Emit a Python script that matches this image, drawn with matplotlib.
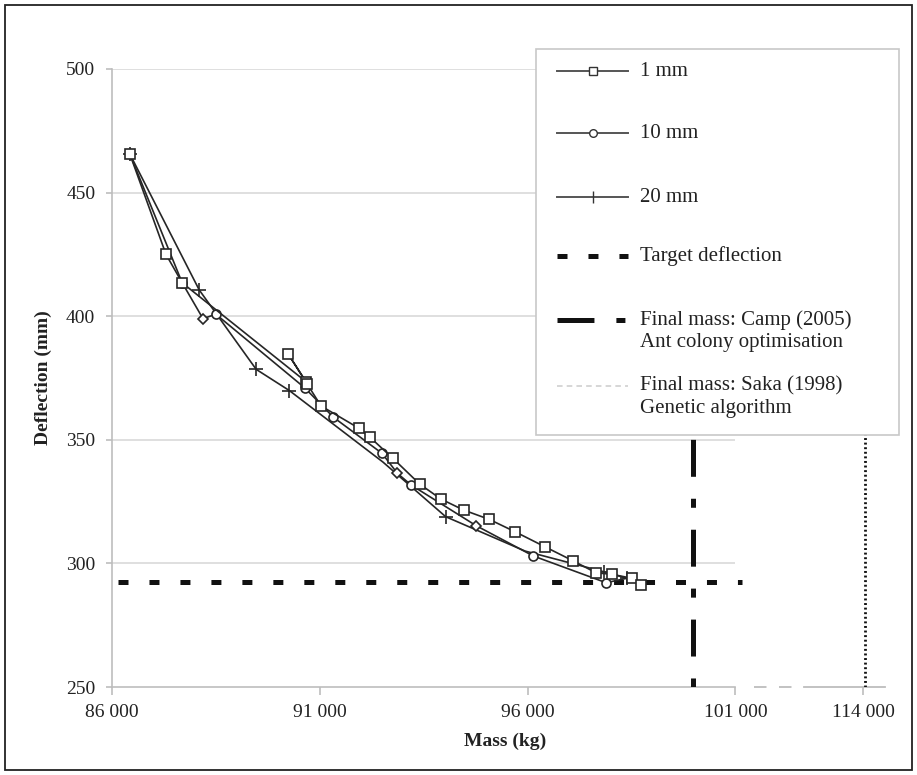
import numpy as np
import matplotlib
matplotlib.use("Agg")
from matplotlib import pyplot as plt
from matplotlib.lines import Line2D
from matplotlib.patches import Rectangle
from matplotlib.ticker import FuncFormatter

plt.rcParams['font.family'] = ['Liberation Serif', 'DejaVu Serif']
plt.rcParams['lines.scale_dashes'] = False

# Series (mass in kg, deflection in mm)
mm1_x = [86430, 87300, 87690, 90670, 90240, 90700, 91030, 91950, 92210, 92760,
         93410, 93920, 94460, 95080, 95700, 96410, 97100, 97650, 98030, 98510, 98730]
mm1_y = [465.6, 425.0, 413.5, 373.5, 384.7, 372.5, 363.7, 354.6, 351.0, 342.5,
         332.0, 326.0, 321.6, 317.8, 312.8, 306.8, 301.0, 296.2, 295.6, 294.0, 291.3]

mm10_x = [86430, 87690, 88190, 88500, 90640, 91330, 92500, 92870, 93200, 94760,
          96140, 97890, 98390]
mm10_y = [465.6, 413.5, 399.0, 400.8, 371.0, 359.1, 344.5, 336.4, 331.7, 315.3,
          303.0, 292.2, 294.0]
mm10_circles = [1, 3, 4, 5, 6, 8, 10, 11]
mm10_diamonds = [2, 7, 9]

mm20_x = [86430, 88100, 89470, 90270, 92520, 94030, 95940, 97840, 98390]
mm20_y = [465.6, 410.6, 378.5, 369.9, 341.0, 318.9, 305.0, 296.6, 294.0]
mm20_plus = [0, 1, 2, 3, 5, 7, 8]

target_deflection = 292.5
target_span = [86145, 101700]
camp_mass = 99990
saka_mass = 114200

x_ticks = [86000, 91000, 96000, 101000, 114000]
y_ticks = [250, 300, 350, 400, 450, 500]

labels = ['1 mm', '10 mm', '20 mm', 'Target deflection',
          'Final mass: Camp (2005)\nAnt colony optimisation',
          'Final mass: Saka (1998)\nGenetic algorithm']

# broken x axis: everything past 101 000 is squeezed
BREAK = 101000
SQUEEZE = 0.237


def fwd(x):
    x = np.asarray(x, dtype=float)
    return np.where(x <= BREAK, x, BREAK + (x - BREAK) * SQUEEZE)


def inv(u):
    u = np.asarray(u, dtype=float)
    return np.where(u <= BREAK, u, BREAK + (u - BREAK) / SQUEEZE)


W, H = 917, 775


def fx(p):
    return p / W


def fy(p):
    return 1 - p / H


line_c = '#262626'
axis_c = '#bdbdbd'
grid_c = '#d9d9d9'
text_c = '#222222'

fig = plt.figure(figsize=(9.17, 7.75), dpi=100)
ax = fig.add_axes([0.1221, 0.1135, 0.8517, 0.7975])
ax.set_xscale('function', functions=(fwd, inv))
ax.set_xlim(86000, 117000)
ax.set_ylim(250, 500)

for s in ['top', 'right']:
    ax.spines[s].set_visible(False)
ax.spines['left'].set_color(axis_c)
ax.spines['bottom'].set_color(axis_c)
ax.spines['bottom'].set_bounds(86000, 101000)
ax.spines['left'].set_linewidth(1.2)
ax.spines['bottom'].set_linewidth(1.2)

# continuation of the axis after the break
ax.plot([102900, 108000], [250, 250], color=axis_c, lw=1.3, dashes=(9, 9),
        clip_on=False, zorder=2)
ax.plot([108000, 116200], [250, 250], color=axis_c, lw=1.3, clip_on=False, zorder=2)

ax.hlines(y_ticks[1:], 86000, 101000, color=grid_c, lw=1.2, zorder=1)

ax.set_xticks(x_ticks)
ax.set_yticks(y_ticks)
ax.xaxis.set_major_formatter(FuncFormatter(lambda v, p: f'{v:,.0f}'.replace(',', ' ')))
ax.tick_params(axis='x', direction='out', length=6, width=1.2, color=axis_c,
               labelsize=14, pad=6, labelcolor=text_c)
ax.tick_params(axis='y', direction='out', length=4, width=1.2, color=axis_c,
               labelsize=14, pad=8, labelcolor=text_c)

ax.set_xlabel('Mass (kg)', fontsize=14, fontweight='bold', color=text_c)
ax.set_ylabel('Deflection (mm)', fontsize=14, fontweight='bold', color=text_c)
ax.xaxis.set_label_coords(0.503, -0.074)
ax.yaxis.set_label_coords(-0.077, 0.5)

# reference lines
target_style = dict(color='#111111', lw=3.6, dashes=(7.2, 15.1), dash_capstyle='butt')
camp_style = dict(color='#111111', lw=3.6, dashes=(6.5, 15.8, 26.6, 15.8),
                  dash_capstyle='butt')
ax.plot(target_span, [target_deflection, target_deflection], zorder=3, **target_style)
ax.plot([camp_mass, camp_mass], [250, 500], zorder=3, **camp_style)
ax.plot([saka_mass, saka_mass], [250, 500], color='#111111', lw=2.0,
        dashes=(1.4, 1.9), zorder=3)

# series
ax.plot(mm20_x, mm20_y, color=line_c, lw=1.2, marker='+', ms=10, mew=1.2,
        markevery=mm20_plus, zorder=4)
ax.plot(mm10_x, mm10_y, color=line_c, lw=1.2, marker='o', ms=6.5, mfc='white',
        mec=line_c, mew=1.2, markevery=mm10_circles, zorder=5)
ax.plot(mm10_x, mm10_y, ls='none', marker='D', ms=5.5, mfc='white', mec=line_c,
        mew=1.2, markevery=mm10_diamonds, zorder=5)
ax.plot(mm1_x, mm1_y, color=line_c, lw=1.2, marker='s', ms=7.5, mfc='white',
        mec=line_c, mew=1.2, zorder=6)

# legend box, laid out by hand so the rows sit like the original
fig.add_artist(Rectangle((fx(536), fy(435)), fx(899) - fx(536), fy(49) - fy(435),
                         transform=fig.transFigure, fc='white', ec='#c8c8c8',
                         lw=1.2, zorder=10))
handle_styles = [
    dict(color='#555555', lw=1.4, marker='s', ms=6, mfc='white', mec='#333333', markevery=[1]),
    dict(color='#555555', lw=1.4, marker='o', ms=5.5, mfc='white', mec='#333333', markevery=[1]),
    dict(color='#555555', lw=1.4, marker='|', ms=9, mec='#333333', markevery=[1]),
    target_style,
    dict(camp_style, dashes=(26.6, 15.8, 6.5, 15.8)),
    dict(color='#cfcfcf', lw=1.2, dashes=(4, 3)),
]
row_y = [71, 133, 197, 256, 320, 386]
for lab, st, yy in zip(labels, handle_styles, row_y):
    fig.add_artist(Line2D([fx(557), fx(592.5), fx(628)], [fy(yy)] * 3,
                          transform=fig.transFigure, zorder=11, **st))
    for k, part in enumerate(lab.split('\n')):
        fig.text(fx(640), fy(yy + 22 * k), part, fontsize=15, color=text_c,
                 va='center', ha='left', zorder=12)

# frame around the whole figure
fig.add_artist(Rectangle((fx(5), fy(770)), fx(912) - fx(5), fy(5) - fy(770),
                         transform=fig.transFigure, fill=False, lw=1.3,
                         ec='#222222', zorder=12))

fig.savefig('out.png', dpi=100)
